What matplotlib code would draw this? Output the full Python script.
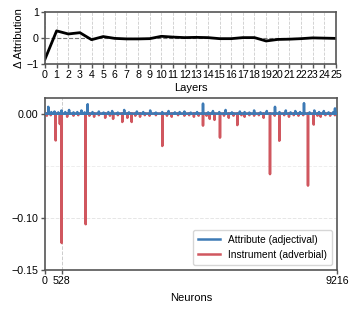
import matplotlib.pyplot as plt
import numpy as np

plt.rcParams['font.family'] = ['Liberation Sans', 'DejaVu Sans']

# per-layer change in attribution
layers = list(range(26))
delta_attr = [-0.82, 0.27, 0.15, 0.20, -0.07, 0.05, -0.02, -0.04, -0.04, -0.03,
              0.06, 0.03, 0.01, 0.02, 0.01, -0.03, -0.03, 0.01, 0.01, -0.12,
              -0.06, -0.05, -0.03, 0.0, -0.01, -0.02]

n_neurons = 9216
# sparse neuron attributions (index, value); everything else ~0
attr_idx = [104, 200, 300, 420, 520, 640, 760, 900, 1020, 1150, 1250, 1348,
            1500, 1700, 1850, 2000, 2120, 2300, 2500, 2650, 2900, 3100, 3320,
            3500, 3700, 3900, 4100, 4250, 4400, 4600, 4800, 4987, 5150, 5300,
            5500, 5700, 5900, 6150, 6300, 6450, 6600, 6800, 7000, 7259, 7400,
            7600, 7750, 7900, 8050, 8174, 8350, 8500, 8650, 8800, 8950, 9100,
            9153]
attr_val = [0.0065, 0.0015, 0.002, 0.0012, 0.003, 0.0015, 0.0035, 0.0012,
            0.0015, 0.003, 0.0012, 0.009, 0.0015, 0.002, 0.001, 0.0015, 0.0025,
            0.001, 0.0035, 0.0012, 0.002, 0.0015, 0.003, 0.001, 0.0015, 0.0025,
            0.0012, 0.0015, 0.002, 0.001, 0.0015, 0.0096, 0.0012, 0.0025,
            0.0015, 0.0035, 0.0012, 0.002, 0.0015, 0.001, 0.003, 0.0012,
            0.0025, 0.0065, 0.0015, 0.003, 0.0012, 0.0025, 0.0015, 0.010,
            0.0012, 0.003, 0.0015, 0.0025, 0.0012, 0.0015, 0.005]
instr_idx = [60, 180, 338, 470, 528, 700, 900, 1050, 1284, 1400, 1550, 1700,
             1900, 2050, 2150, 2300, 2440, 2600, 2736, 2850, 3000, 3150, 3300,
             3500, 3702, 3850, 4000, 4200, 4400, 4550, 4700, 4850, 4987, 5100,
             5200, 5350, 5523, 5650, 5800, 5950, 6070, 6200, 6300, 6450, 6600,
             6750, 6900, 7101, 7250, 7395, 7550, 7700, 7850, 8000, 8150, 8300,
             8481, 8600, 8700, 8850, 9000, 9150]
instr_val = [-0.002, -0.0015, -0.0257, -0.010, -0.124, -0.003, -0.002, -0.0015,
             -0.106, -0.002, -0.003, -0.0015, -0.004, -0.002, -0.005, -0.0015,
             -0.008, -0.004, -0.008, -0.002, -0.003, -0.0015, -0.002, -0.0015,
             -0.031, -0.002, -0.003, -0.0015, -0.002, -0.0015, -0.003, -0.002,
             -0.0115, -0.002, -0.005, -0.006, -0.023, -0.002, -0.004, -0.002,
             -0.011, -0.0015, -0.003, -0.0015, -0.002, -0.0015, -0.004, -0.058,
             -0.002, -0.026, -0.0015, -0.003, -0.0015, -0.002, -0.0015, -0.069,
             -0.0105, -0.002, -0.003, -0.0015, -0.002, -0.0015]

attr = np.zeros(n_neurons + 1)
attr[attr_idx] = attr_val
instr = np.zeros(n_neurons + 1)
instr[instr_idx] = instr_val
x = np.arange(n_neurons + 1)

spine_c = '#555555'
fig = plt.figure(figsize=(3.57, 3.13), dpi=100)
ax1 = fig.add_axes([0.126, 0.796, 0.815, 0.166])
ax2 = fig.add_axes([0.126, 0.137, 0.818, 0.550])

ax1.plot(layers, delta_attr, color='black', lw=2)
ax1.axhline(0, color='#777777', ls='--', lw=0.8, zorder=0)
for l in layers:
    ax1.axvline(l, color='#cccccc', ls='--', lw=0.6, zorder=0)
ax1.set_xlim(0, 25)
ax1.set_ylim(-1, 1)
ax1.set_xticks(layers)
ax1.set_yticks([-1, 0, 1])
ax1.set_xlabel('Layers', fontsize=8, labelpad=2)
ax1.set_ylabel('Δ Attribution', fontsize=8, labelpad=2)

ax2.plot(x, instr, color='#d0575f', lw=1.8, label='Instrument (adverbial)', zorder=2)
ax2.plot(x, attr, color='#3d7ab5', lw=1.8, label='Attribute (adjectival)', zorder=3)
ax2.axvline(528, color='#cccccc', ls='--', lw=0.7, zorder=0)
ax2.axhline(-0.10, color='#e6e6e6', ls='--', lw=0.7, zorder=0)
ax2.axhline(-0.05, color='#eeeeee', ls='--', lw=0.7, zorder=0)
ax2.set_xlim(0, n_neurons)
ax2.set_ylim(-0.15, 0.015)
ax2.set_xticks([0, 528, n_neurons])
ax2.set_yticks([0.0, -0.10, -0.15])
ax2.set_yticklabels(['0.00', '\u22120.10', '\u22120.15'])
ax2.set_xlabel('Neurons', fontsize=8, labelpad=5)
h, lab = ax2.get_legend_handles_labels()
ax2.legend(h[::-1], lab[::-1], loc='lower right', fontsize=7.3, frameon=True,
           handlelength=2.2, borderpad=0.5, labelspacing=0.5)

for ax in (ax1, ax2):
    for s in ax.spines.values():
        s.set_color(spine_c)
        s.set_linewidth(1.2)
    ax.tick_params(labelsize=7.7, length=3, width=1, color=spine_c, pad=1.5)

fig.savefig('out.png', dpi=100)
